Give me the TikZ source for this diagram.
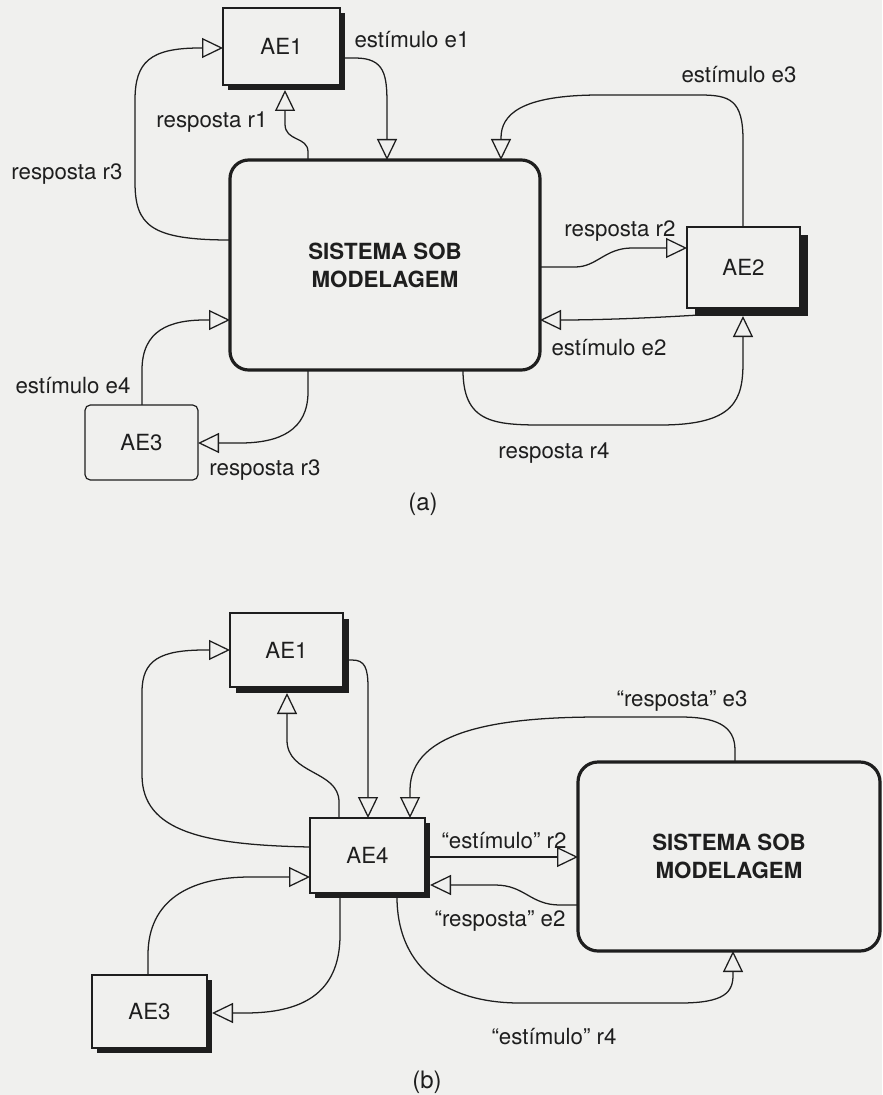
\documentclass[tikz,border=0pt]{standalone}
\usepackage{fontspec}
\setmainfont{TeX Gyre Heros}
\usetikzlibrary{arrows.meta,calc,shadows}
\definecolor{paper}{HTML}{F0F0EE}
\definecolor{ink}{HTML}{1E1E1E}
\newcommand\lblfont{\fontsize{16.7}{20}\selectfont}
\newcommand\capfont{\fontsize{18}{21}\selectfont}
\newcommand\sysfont{\fontsize{16.7}{21}\selectfont\bfseries}
\pgfdeclarelayer{back}
\pgfdeclarelayer{wires}
\pgfsetlayers{back,wires,main}

\begin{document}
\begin{tikzpicture}[x=0.75pt,y=-0.75pt,
  every node/.style={font=\lblfont, text=ink},
  agent/.style n args={3}{draw=ink, fill=paper, line width=0.9pt, inner sep=0pt, outer sep=0pt,
    minimum width=#1, minimum height=#2,
    drop shadow={shadow xshift=#3, shadow yshift=-#3, fill=ink, opacity=1}},
  plainagent/.style 2 args={draw=ink, fill=paper, line width=0.9pt, rounded corners=4pt,
    inner sep=0pt, outer sep=0pt, minimum width=#1, minimum height=#2},
  system/.style 2 args={draw=ink, fill=paper, line width=2.4pt, rounded corners=14pt,
    inner sep=0pt, outer sep=0pt, minimum width=#1, minimum height=#2,
    font=\sysfont, align=center},
  flow/.style={draw=ink, line width=0.95pt,
    -{Triangle[fill=paper, length=15.75pt, width=15pt, line width=0.95pt]}},
  lbl/.style={anchor=base, inner sep=0pt},
  caption/.style={anchor=base, inner sep=0pt, font=\capfont},
]
% page
\begin{pgfonlayer}{back}
  \fill[paper] (0,0) rectangle (882,1095);
\end{pgfonlayer}
\useasboundingbox (0,0) rectangle (882,1095);

% ---------- (a) ----------
\node[agent={87.75pt}{57.75pt}{3.75pt}] (AE1a) at (281.5,46.5) {AE1};
\node[system={232.5pt}{157.5pt}] (SISa) at (385,265) {SISTEMA SOB\\MODELAGEM};
\node[agent={84.75pt}{60.75pt}{6pt}] (AE2) at (743.5,267.5) {AE2};
\node[plainagent={84.75pt}{56.25pt}] (AE3a) at (141.5,442.5) {AE3};

\node[lbl] (lE1) at (412,48) {estímulo e1};
\node[lbl] (lR1) at (212,128) {resposta r1};
\node[lbl] (lR3u) at (67,180) {resposta r3};
\node[lbl] (lE3) at (739,83) {estímulo e3};
\node[lbl] (lR2) at (620,236) {resposta r2};
\node[lbl] (lE2) at (609,355) {estímulo e2};
\node[lbl] (lR4) at (554,458) {resposta r4};
\node[lbl] (lE4) at (73,393) {estímulo e4};
\node[lbl] (lR3l) at (265,475) {resposta r3};
\node[caption] (capA) at (423,510) {(a)};

\begin{pgfonlayer}{wires}
  % resposta r3 (to AE1)
  \draw[flow] (0,240 -| SISa.west) .. controls (150,240) and (135,225) .. (135,182)
    -- (135,100) .. controls (135,62) and (150,48) .. (200,48) -- (0,48 -| AE1a.west);
  % estimulo e1
  \draw[flow] (AE1a.east |- 0,58) -- (355,58) .. controls (385,58) and (387,75) .. (387,105)
    -- (387,0 |- SISa.north);
  % resposta r1
  \draw[flow] (308,0 |- SISa.north) -- (308,152) .. controls (308,136) and (285,142) .. (285,124)
    -- ($(285,0 |- AE1a.south)+(0,5)$);
  % estimulo e3
  \draw[flow] (743,0 |- AE2.north) -- (743,140) .. controls (743,100) and (730,95) .. (700,95)
    -- (600,95) .. controls (520,95) and (501,115) .. (501,138) -- (501,0 |- SISa.north);
  % resposta r2
  \draw[flow] (0,267 -| SISa.east) -- (575,267) .. controls (597,267) and (605,248) .. (632,248)
    -- (0,248 -| AE2.west);
  % estimulo e2
  \draw[flow] ($(AE2.south west)+(12,7)$) .. controls (650,318) and (600,320) .. (0,320 -| SISa.east);
  % resposta r4
  \draw[flow] (463,0 |- SISa.south) .. controls (463,428) and (500,425) .. (560,425)
    -- (660,425) .. controls (735,425) and (743,400) .. (743,362)
    -- ($(743,0 |- AE2.south)+(0,8)$);
  % estimulo e4
  \draw[flow] (142,0 |- AE3a.north) -- (142,370) .. controls (142,330) and (170,320) .. (205,320)
    -- (0,320 -| SISa.west);
  % resposta r3 (to AE3)
  \draw[flow] (308,0 |- SISa.south) -- (308,392) .. controls (308,430) and (280,443) .. (240,443)
    -- (0,443 -| AE3a.east);
\end{pgfonlayer}

% ---------- (b) ----------
\node[agent={84.75pt}{55.5pt}{4.5pt}] (AE1b) at (286.5,650) {AE1};
\node[agent={86.25pt}{56.25pt}{3.75pt}] (AE4) at (367.5,855.5) {AE4};
\node[agent={86.25pt}{54.75pt}{3.75pt}] (AE3b) at (149.5,1011.5) {AE3};
\node[system={226.5pt}{141.75pt}, rounded corners=15pt] (SISb) at (729,856.5) {SISTEMA SOB\\MODELAGEM};

\node[lbl] (qR2) at (504,848) {“estímulo” r2};
\node[lbl] (qE2) at (500,926) {“resposta” e2};
\node[lbl] (qR4) at (554,1044) {“estímulo” r4};
\node[lbl] (qE3) at (682,706) {“resposta” e3};
\node[caption] (capB) at (427,1088) {(b)};

\begin{pgfonlayer}{wires}
  % AE4 to AE1, outer loop
  \draw[flow] (0,847 -| AE4.west) .. controls (205,845) and (142,832) .. (142,775)
    -- (142,692) .. controls (142,660) and (160,650) .. (205,650) -- (0,650 -| AE1b.west);
  % AE4 to AE1, inner
  \draw[flow] (339,0 |- AE4.north) -- (339,802) .. controls (339,770) and (287,775) .. (287,740)
    -- ($(287,0 |- AE1b.south)+(0,6)$);
  % AE1 to AE4
  \draw[flow] (AE1b.east |- 0,660) -- (352,660) .. controls (365,660) and (368,668) .. (368,688)
    -- (368,0 |- AE4.north);
  % "resposta" e3
  \draw[flow] (735,0 |- SISb.north) -- (735,750) .. controls (735,725) and (715,717) .. (680,717)
    -- (600,717) .. controls (500,717) and (410,730) .. (410,790) -- (410,0 |- AE4.north);
  % "estimulo" r2
  \draw[flow] (AE4.east |- 0,857) -- (0,857 -| SISb.west);
  % "resposta" e2
  \draw[flow] (0,905 -| SISb.west) -- (560,905) .. controls (530,905) and (525,885) .. (495,885)
    -- ($(0,885 -| AE4.east)+(5,0)$);
  % "estimulo" r4
  \draw[flow] ($(397,0 |- AE4.south)+(0,4)$) .. controls (397,962) and (440,1003) .. (520,1003)
    -- (680,1003) .. controls (725,1003) and (733,992) .. (733,975) -- (733,0 |- SISb.south);
  % AE3 to AE4
  \draw[flow] (148,0 |- AE3b.north) -- (148,955) .. controls (148,900) and (190,877) .. (250,877)
    -- (0,877 -| AE4.west);
  % AE4 to AE3
  \draw[flow] ($(340,0 |- AE4.south)+(0,4)$) -- (340,935) .. controls (340,995) and (300,1013) .. (245,1013)
    -- ($(0,1013 -| AE3b.east)+(5,0)$);
\end{pgfonlayer}
\end{tikzpicture}
\end{document}
